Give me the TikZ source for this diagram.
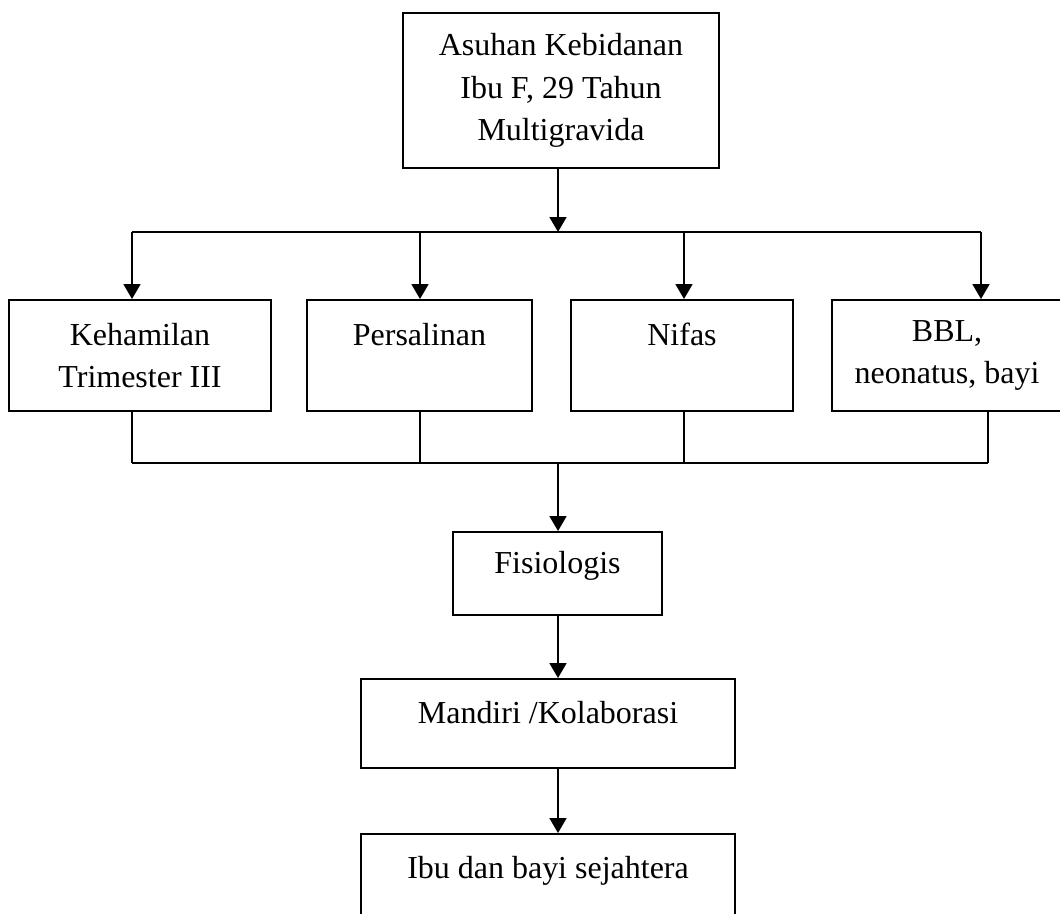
\documentclass[tikz,border=0pt]{standalone}
\usepackage{fontspec}
\setmainfont{Liberation Serif}
\usetikzlibrary{arrows.meta}
\newcommand{\Asuhan}{Asuhan Kebidanan\\Ibu F, 29 Tahun\\Multigravida}
\newcommand{\Hamil}{Kehamilan\\Trimester III}
\newcommand{\Bbl}{BBL,\\neonatus, bayi}

\begin{document}
\begin{tikzpicture}[
        font=\fontsize{18.2}{24}\selectfont,
        box/.style={draw, line width=1.1pt, align=center, inner sep=0pt},
        onebox/.style={box, text height=0.4cm, text depth=0.4cm},
        arr/.style={line width=1.1pt, -{Triangle[width=9.6pt,length=8.5pt]}},
        link/.style={line width=0.8pt}
    ]
    \useasboundingbox (0,0) rectangle (21.2,-18.26);
    \clip (0,0) rectangle (21.2,-18.26);
    \node[box, minimum width=6.32cm, minimum height=3.10cm] (asuhan) at (11.22,-1.81) {\Asuhan};
    \node[box, minimum width=5.24cm, minimum height=2.22cm] (hamil) at ( 2.80,-7.11) {\Hamil};
    \node[box, minimum width=4.50cm, minimum height=2.22cm] (salin) at ( 8.39,-7.11) {Persalinan\\\mbox{}};
    \node[box, minimum width=4.44cm, minimum height=2.22cm] (nifas) at (13.64,-7.11) {Nifas\\\mbox{}};
    \node[box, minimum width=4.60cm, minimum height=2.22cm] (bbl)   at (18.94,-7.11) {\Bbl};
    \node[onebox, minimum width=4.18cm, minimum height=1.66cm] (fisio)     at (11.15,-11.47) {Fisiologis};
    \node[onebox, minimum width=7.48cm, minimum height=1.78cm] (mandiri)   at (10.96,-14.47) {Mandiri /Kolaborasi};
    \node[onebox, minimum width=7.48cm, minimum height=1.78cm] (sejahtera) at (10.96,-17.57) {Ibu dan bayi sejahtera};

    \coordinate (bus) at (11.16,-4.64);
    \coordinate (d1) at ( 2.64,-4.64);
    \coordinate (d2) at ( 8.40,-4.64);
    \coordinate (d3) at (13.68,-4.64);
    \coordinate (d4) at (19.62,-4.64);
    \coordinate (j)  at (11.16,-9.26);
    \coordinate (u1) at ( 2.64,-9.26);
    \coordinate (u2) at ( 8.40,-9.26);
    \coordinate (u3) at (13.68,-9.26);
    \coordinate (u4) at (19.76,-9.26);

    \draw[arr] (asuhan.south -| bus) -- (bus);
    \draw[line width=1.1pt] (d1) -- (d4);
    \draw[arr] (d1) -- (d1 |- hamil.north);
    \draw[arr] (d2) -- (d2 |- salin.north);
    \draw[arr] (d3) -- (d3 |- nifas.north);
    \draw[arr] (d4) -- (d4 |- bbl.north);

    \draw[link] (hamil.south -| u1) -- (u1);
    \draw[link] (salin.south -| u2) -- (u2);
    \draw[link] (nifas.south -| u3) -- (u3);
    \draw[link] (bbl.south -| u4) -- (u4);
    \draw[line width=1.1pt] (u1) -- (u4);

    \draw[arr] (j) -- (j |- fisio.north);
    \draw[arr] (fisio.south -| j) -- (j |- mandiri.north);
    \draw[arr] (mandiri.south -| j) -- (j |- sejahtera.north);
\end{tikzpicture}
\end{document}
